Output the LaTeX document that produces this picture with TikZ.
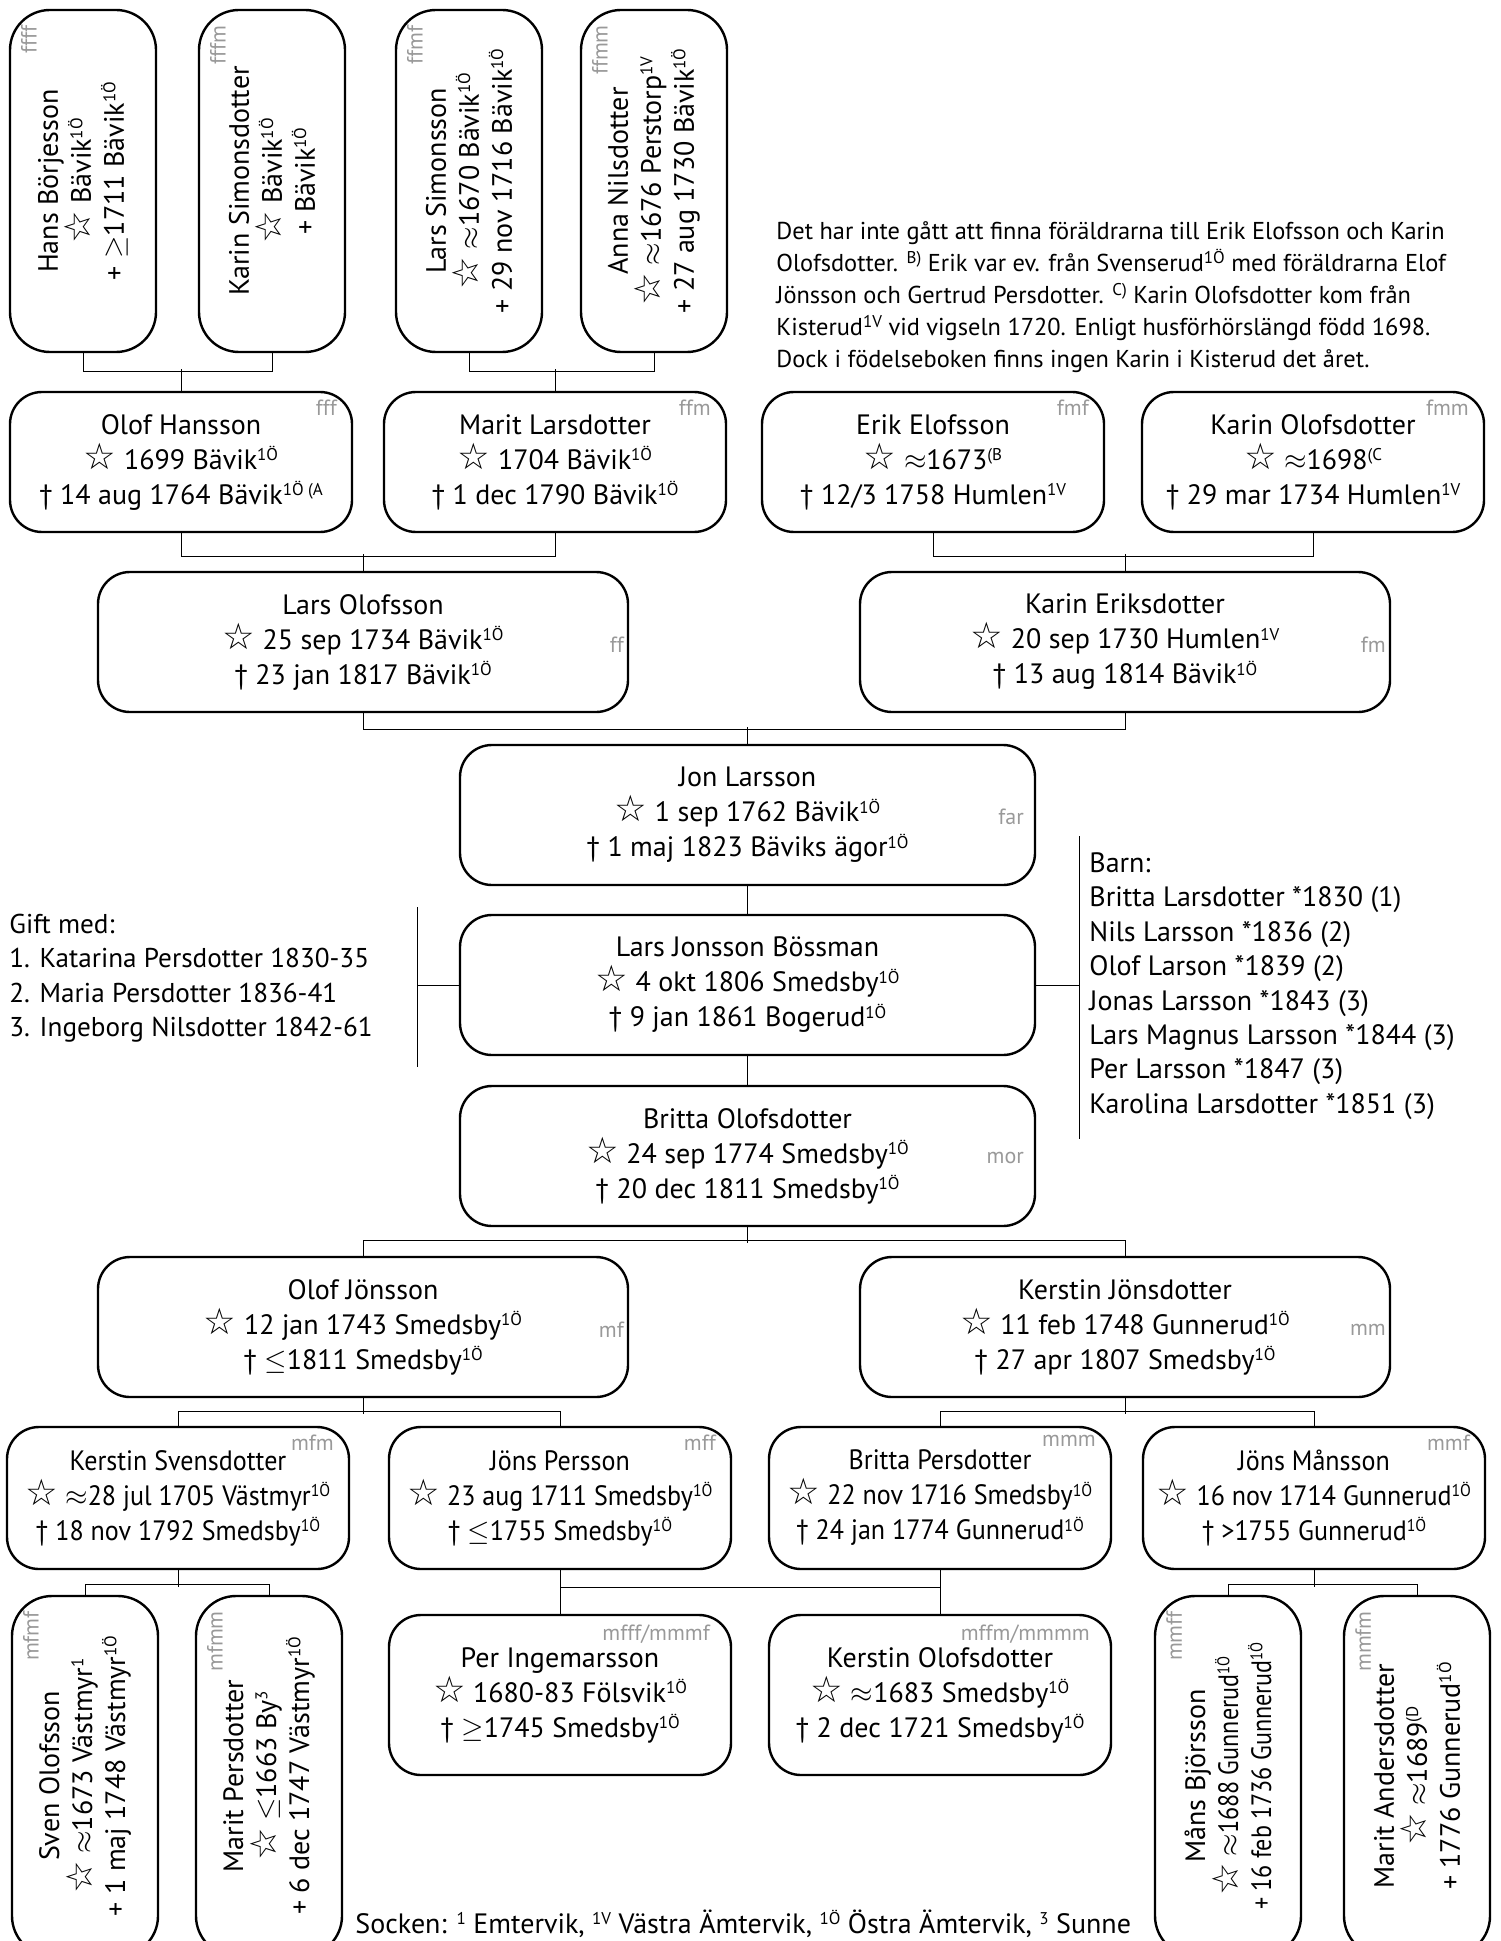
\documentclass[tikz,border=0pt]{standalone}
\usepackage{fontspec}
\setmainfont{PT Sans}
\newfontfamily\narrowfont{PT Sans}[FakeStretch=0.86]
\newfontfamily\slimfont{PT Sans}[FakeStretch=0.93]
\newfontfamily\symfont{DejaVu Sans}[Scale=1.3]
\usetikzlibrary{calc}

\newcommand\born{{\symfont ☆}}
\newcommand\sock[1]{\raisebox{0.62ex}{\fontsize{8.5}{8.5}\selectfont #1}}

\tikzset{
	person/.style={draw, line width=1.2pt, rounded corners=16pt, minimum width=171pt,
		minimum height=70pt, align=center, inner sep=0pt,
		font=\fontsize{14}{17.5}\selectfont},
	slim/.style={font=\slimfont\fontsize{14}{17.5}\selectfont},
	vperson/.style={draw, line width=1.2pt, rounded corners=20pt, rotate=90,
		minimum width=171pt, minimum height=73pt, align=center, inner sep=0pt,
		font=\fontsize{14}{16.5}\selectfont},
	gen/.style={text=black!40, inner sep=0pt, font=\fontsize{11}{11}\selectfont},
	link/.style={line width=0.5pt},
	note/.style={align=left, inner sep=0pt, font=\fontsize{14}{17.2}\selectfont},
}

\begin{document}
\begin{tikzpicture}[x=0.5pt, y=-0.5pt]
	\useasboundingbox (0,0) rectangle (1500,1941);
	\clip (0,0) rectangle (1500,1941);

	\node[vperson] (ffff) at (83,181) {Hans Börjesson\\\born\ Bävik\sock{1Ö}\\+ $\geq$1711 Bävik\sock{1Ö}};
	\node[vperson] (fffm) at (272,181) {Karin Simonsdotter\\\born\ Bävik\sock{1Ö}\\+ Bävik\sock{1Ö}};
	\node[vperson] (ffmf) at (469,181) {Lars Simonsson\\\born\ $\approx$1670 Bävik\sock{1Ö}\\+ 29 nov 1716 Bävik\sock{1Ö}};
	\node[vperson] (ffmm) at (654,181) {Anna Nilsdotter\\\born\ $\approx$1676 Perstorp\sock{1V}\\+ 27 aug 1730 Bävik\sock{1Ö}};

	\node[person] (fff) at (181,462) {Olof Hansson\\\born\ 1699 Bävik\sock{1Ö}\\† 14 aug 1764 Bävik\sock{1Ö (A}};
	\node[person] (ffm) at (555,462) {Marit Larsdotter\\\born\ 1704 Bävik\sock{1Ö}\\† 1 dec 1790 Bävik\sock{1Ö}};
	\node[person] (fmf) at (933,462) {Erik Elofsson\\\born\ $\approx$1673\sock{(B}\\† 12/3 1758 Humlen\sock{1V}};
	\node[person] (fmm) at (1313,462) {Karin Olofsdotter\\\born\ $\approx$1698\sock{(C}\\† 29 mar 1734 Humlen\sock{1V}};

	\node[person, minimum width=265pt] (ff) at (363,642) {Lars Olofsson\\\born\ 25 sep 1734 Bävik\sock{1Ö}\\† 23 jan 1817 Bävik\sock{1Ö}};
	\node[person, minimum width=265pt] (fm) at (1125,642) {Karin Eriksdotter\\\born\ 20 sep 1730 Humlen\sock{1V}\\† 13 aug 1814 Bävik\sock{1Ö}};

	\node[person, minimum width=287.5pt] (far) at (747.5,815) {Jon Larsson\\\born\ 1 sep 1762 Bävik\sock{1Ö}\\† 1 maj 1823 Bäviks ägor\sock{1Ö}};
	\node[person, minimum width=287.5pt] (lars) at (747.5,985) {Lars Jonsson Bössman\\\born\ 4 okt 1806 Smedsby\sock{1Ö}\\† 9 jan 1861 Bogerud\sock{1Ö}};
	\node[person, minimum width=287.5pt] (mor) at (747.5,1156) {Britta Olofsdotter\\\born\ 24 sep 1774 Smedsby\sock{1Ö}\\† 20 dec 1811 Smedsby\sock{1Ö}};

	\node[person, minimum width=265pt] (mf) at (363,1327) {Olof Jönsson\\\born\ 12 jan 1743 Smedsby\sock{1Ö}\\† $\leq$1811 Smedsby\sock{1Ö}};
	\node[person, minimum width=265pt] (mm) at (1125,1327) {Kerstin Jönsdotter\\\born\ 11 feb 1748 Gunnerud\sock{1Ö}\\† 27 apr 1807 Smedsby\sock{1Ö}};

	\node[person, slim, minimum height=71pt] (mfm) at (178,1498) {Kerstin Svensdotter\\\born\ $\approx$28 jul 1705 Västmyr\sock{1Ö}\\† 18 nov 1792 Smedsby\sock{1Ö}};
	\node[person, slim, minimum height=71pt] (mff) at (560,1498) {Jöns Persson\\\born\ 23 aug 1711 Smedsby\sock{1Ö}\\† $\leq$1755 Smedsby\sock{1Ö}};
	\node[person, slim, minimum height=71pt] (mmm) at (940,1498) {Britta Persdotter\\\born\ 22 nov 1716 Smedsby\sock{1Ö}\\† 24 jan 1774 Gunnerud\sock{1Ö}};
	\node[person, slim, minimum height=71pt] (mmf) at (1314,1498) {Jöns Månsson\\\born\ 16 nov 1714 Gunnerud\sock{1Ö}\\† >1755 Gunnerud\sock{1Ö}};

	\node[person, minimum height=80pt] (mfff) at (560,1695) {Per Ingemarsson\\\born\ 1680-83 Fölsvik\sock{1Ö}\\† $\geq$1745 Smedsby\sock{1Ö}};
	\node[person, minimum height=80pt] (mffm) at (940,1695) {Kerstin Olofsdotter\\\born\ $\approx$1683 Smedsby\sock{1Ö}\\† 2 dec 1721 Smedsby\sock{1Ö}};

	\node[vperson, minimum width=180pt] (mfmf) at (85,1776) {Sven Olofsson\\\born\ $\approx$1673 Västmyr\sock{1}\\+ 1 maj 1748 Västmyr\sock{1Ö}};
	\node[vperson, minimum width=180pt] (mfmm) at (269,1776) {Marit Persdotter\\\born\ $\leq$1663 By\sock{3}\\+ 6 dec 1747 Västmyr\sock{1Ö}};
	\node[vperson, minimum width=180pt] (mmff) at (1228,1776) {Måns Björsson\\{\narrowfont\born\ $\approx$1688 Gunnerud\sock{1Ö}}\\{\narrowfont + 16 feb 1736 Gunnerud\sock{1Ö}}};
	\node[vperson, minimum width=180pt] (mmfm) at (1417,1776) {Marit Andersdotter\\\born\ $\approx$1689\sock{(D}\\+ 1776 Gunnerud\sock{1Ö}};

	\node[gen, rotate=90, anchor=north east] (ffff-g) at ($(ffff.north east)+(12,16)$) {ffff};
	\node[gen, rotate=90, anchor=north east] (fffm-g) at ($(fffm.north east)+(12,16)$) {fffm};
	\node[gen, rotate=90, anchor=north east] (ffmf-g) at ($(ffmf.north east)+(12,16)$) {ffmf};
	\node[gen, rotate=90, anchor=north east] (ffmm-g) at ($(ffmm.north east)+(12,16)$) {ffmm};
	\node[gen, anchor=north east] (fff-g) at ($(fff.north east)+(-16,9)$) {fff};
	\node[gen, anchor=north east] (ffm-g) at ($(ffm.north east)+(-16,9)$) {ffm};
	\node[gen, anchor=north east] (fmf-g) at ($(fmf.north east)+(-16,9)$) {fmf};
	\node[gen, anchor=north east] (fmm-g) at ($(fmm.north east)+(-16,9)$) {fmm};
	\node[gen, anchor=east] (ff-g) at ($(ff.east)+(-5,3)$) {ff};
	\node[gen, anchor=east] (fm-g) at ($(fm.east)+(-5,3)$) {fm};
	\node[gen, anchor=east] (far-g) at ($(far.east)+(-12,2)$) {far};
	\node[gen, anchor=east] (mor-g) at ($(mor.east)+(-12,2)$) {mor};
	\node[gen, anchor=east] (mf-g) at ($(mf.east)+(-5,3)$) {mf};
	\node[gen, anchor=east] (mm-g) at ($(mm.east)+(-5,3)$) {mm};
	\node[gen, anchor=north east] (mfm-g) at ($(mfm.north east)+(-16,9)$) {mfm};
	\node[gen, anchor=north east] (mff-g) at ($(mff.north east)+(-16,9)$) {mff};
	\node[gen, anchor=north east] (mmm-g) at ($(mmm.north east)+(-16,9)$) {mmm};
	\node[gen, anchor=north east] (mmf-g) at ($(mmf.north east)+(-16,9)$) {mmf};
	\node[gen, anchor=north east] (mfff-g) at ($(mfff.north east)+(-22,11)$) {mfff/mmmf};
	\node[gen, anchor=north east] (mffm-g) at ($(mffm.north east)+(-22,11)$) {mffm/mmmm};
	\node[gen, rotate=90, anchor=north east] (mfmf-g) at ($(mfmf.north east)+(12,16)$) {mfmf};
	\node[gen, rotate=90, anchor=north east] (mfmm-g) at ($(mfmm.north east)+(12,16)$) {mfmm};
	\node[gen, rotate=90, anchor=north east] (mmff-g) at ($(mmff.north east)+(12,16)$) {mmff};
	\node[gen, rotate=90, anchor=north east] (mmfm-g) at ($(mmfm.north east)+(12,16)$) {mmfm};

	\draw[link] (ffff.west) -- ++(0,18) -| (fffm.west);
	\draw[link] (ffmf.west) -- ++(0,18) -| (ffmm.west);
	\draw[link] (fff.north) -- ++(0,-22);
	\draw[link] (ffm.north) -- ++(0,-22);
	\draw[link] (fff.south) -- ++(0,23) -| (ffm.south);
	\draw[link] (fmf.south) -- ++(0,23) -| (fmm.south);
	\draw[link] (ff.north) -- ++(0,-17);
	\draw[link] (fm.north) -- ++(0,-17);
	\draw[link] (ff.south) -- ++(0,16) -| (fm.south);
	\draw[link] (far.north) -- ++(0,-17);
	\draw[link] (far.south) -- (lars.north);
	\draw[link] (lars.south) -- (mor.north);
	\draw[link] (mor.south) -- ++(0,16);
	\draw[link] (mf.north) -- ++(0,-15) -| (mm.north);
	\draw[link] (mf.south) -- ++(0,16);
	\draw[link] (mm.south) -- ++(0,16);
	\draw[link] (mfm.north) -- ++(0,-14) -| (mff.north);
	\draw[link] (mmm.north) -- ++(0,-14) -| (mmf.north);
	\draw[link] (mfm.south) -- ++(0,17);
	\draw[link] (mmf.south) -- ++(0,17);
	\draw[link] (mfmf.east) -- ++(0,-10) -| (mfmm.east);
	\draw[link] (mmff.east) -- ++(0,-10) -| (mmfm.east);
	\draw[link] (mff.south) -- (mfff.north);
	\draw[link] (mmm.south) -- (mffm.north);
	\draw[link] ($(mff.south)+(0,17)$) -- ($(mmm.south)+(0,17)$);

	\draw[link] (lars.west) -- ++(-41,0) coordinate (gm);
	\draw[link] ($(gm)+(0,-78)$) -- ($(gm)+(0,82)$);
	\draw[link] (lars.east) -- ++(43,0) coordinate (bn);
	\draw[link] ($(bn)+(0,-149)$) -- ($(bn)+(0,154)$);

	\node[note, anchor=west, font=\fontsize{13.6}{17.2}\selectfont] (gift) at (9,978) {Gift med:\\1. Katarina Persdotter 1830-35\\2. Maria Persdotter 1836-41\\3. Ingeborg Nilsdotter 1842-61};
	\node[note, anchor=west] (barn) at (1089,986) {Barn:\\Britta Larsdotter *1830 (1)\\Nils Larsson *1836 (2)\\Olof Larson *1839 (2)\\Jonas Larsson *1843 (3)\\Lars Magnus Larsson *1844 (3)\\Per Larsson *1847 (3)\\Karolina Larsdotter *1851 (3)};
	\node[note, anchor=west, font=\fontsize{12.2}{16}\selectfont] (okand) at (776,297) {Det har inte gått att finna föräldrarna till Erik Elofsson och Karin\\Olofsdotter. \sock{B)} Erik var ev. från Svenserud\sock{1Ö} med föräldrarna Elof\\Jönsson och Gertrud Persdotter. \sock{C)} Karin Olofsdotter kom från\\Kisterud\sock{1V} vid vigseln 1720. Enligt husförhörslängd född 1698.\\Dock i födelseboken finns ingen Karin i Kisterud det året.};
	\node[anchor=base west, inner sep=0pt, font=\fontsize{14}{14}\selectfont] (socken) at (355,1933) {Socken: \sock{1} Emtervik, \sock{1V} Västra Ämtervik, \sock{1Ö} Östra Ämtervik, \sock{3} Sunne};
\end{tikzpicture}
\end{document}
